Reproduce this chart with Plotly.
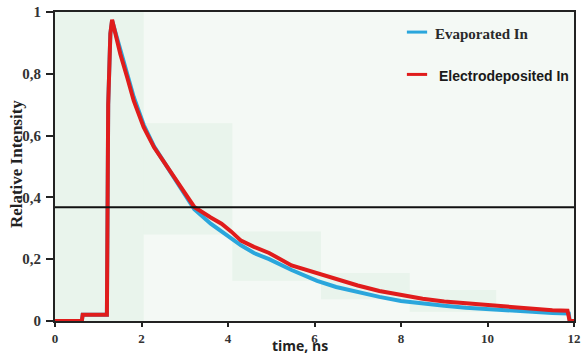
import plotly.graph_objects as go

# time (ns) and relative intensity samples
t_evap = [0, 0.62, 0.64, 1.17, 1.2, 1.23, 1.28, 1.32, 1.51, 1.67, 1.82, 2.05, 2.29, 2.6, 2.91, 3.22, 3.6, 3.85, 4.07,
          4.3, 4.6, 4.95, 5.47, 6.06, 6.5, 7.0, 7.5, 8.0, 8.5, 9.0, 9.5, 10.0, 10.5, 11.0, 11.5, 11.88, 11.9, 12]
i_evap = [0, 0, 0.02, 0.02, 0.02, 0.7, 0.93, 0.972, 0.875, 0.80, 0.725, 0.635, 0.565, 0.497, 0.428, 0.362, 0.315, 0.29, 0.27,
          0.245, 0.22, 0.2, 0.165, 0.13, 0.11, 0.093, 0.078, 0.065, 0.056, 0.049, 0.043, 0.038, 0.033, 0.029, 0.026, 0.024, 0, 0]

t_elec = [0, 0.62, 0.64, 1.17, 1.2, 1.23, 1.28, 1.32, 1.51, 1.67, 1.82, 2.05, 2.29, 2.6, 2.91, 3.22, 3.6, 3.85, 4.07,
          4.3, 4.6, 4.95, 5.47, 6.06, 6.5, 7.0, 7.5, 8.0, 8.5, 9.0, 9.5, 10.0, 10.5, 11.0, 11.5, 11.85, 11.9, 12]
i_elec = [0, 0, 0.02, 0.02, 0.02, 0.7, 0.93, 0.975, 0.864, 0.788, 0.713, 0.627, 0.562, 0.498, 0.433, 0.369, 0.335, 0.315, 0.29,
          0.26, 0.24, 0.22, 0.18, 0.155, 0.135, 0.115, 0.097, 0.083, 0.072, 0.063, 0.057, 0.051, 0.045, 0.04, 0.035, 0.033, 0, 0]

one_over_e = 0.368

# faint shaded boxes (x0, x1, y0, y1)
box_x0 = [0, 2.05, 4.1, 6.15, 8.2]
box_x1 = [2.05, 4.1, 6.15, 8.2, 10.2]
box_y0 = [0, 0.28, 0.13, 0.07, 0.03]
box_y1 = [1, 0.64, 0.29, 0.155, 0.1]

x_ticks = [0, 2, 4, 6, 8, 10, 12]
x_labels = ["0", "2", "4", "6", "8", "10", "12"]
y_ticks = [0, 0.2, 0.4, 0.6, 0.8, 1]
y_labels = ["0", "0,2", "0,4", "0,6", "0,8", "1"]

series_names = ["Evaporated In", "Electrodeposited In"]
series_colors = ["#2aa6dc", "#e01c1c"]

fig = go.Figure()

for a, b, c, d in zip(box_x0, box_x1, box_y0, box_y1):
    fig.add_shape(type="rect", x0=a, x1=b, y0=c, y1=d, xref="x", yref="y",
                  fillcolor="rgba(150,210,165,0.11)", line_width=0, layer="below")

fig.add_hline(y=one_over_e, line=dict(color="#111", width=2))

fig.add_trace(go.Scatter(x=t_evap, y=i_evap, mode="lines", name=series_names[0],
                         line=dict(color=series_colors[0], width=4)))
fig.add_trace(go.Scatter(x=t_elec, y=i_elec, mode="lines", name=series_names[1],
                         line=dict(color=series_colors[1], width=4)))

# hand-placed legend (keys + labels in paper coordinates)
legend_y = [0.93, 0.793]
legend_fonts = [dict(family="Liberation Serif", size=15, color="#2a2a2a", weight="bold"),
                dict(family="Liberation Sans", size=14, color="#1a1a1a", weight="bold")]
legend_text_x = [0.728, 0.736]
for k in range(2):
    fig.add_shape(type="line", xref="paper", yref="paper", x0=0.678, x1=0.717,
                  y0=legend_y[k] + 0.005, y1=legend_y[k] + 0.005, line=dict(color=series_colors[k], width=3))
    fig.add_annotation(xref="paper", yref="paper", x=legend_text_x[k], y=legend_y[k],
                       xanchor="left", yanchor="middle", showarrow=False,
                       text=series_names[k], font=legend_fonts[k])

# axis titles
fig.add_annotation(xref="paper", yref="paper", x=0.472, y=-0.078, xanchor="center", yanchor="middle",
                   showarrow=False, text="time, ns",
                   font=dict(family="Open Sans", size=14, color="#222", weight="bold"))
fig.add_annotation(xref="paper", yref="paper", x=-0.075, y=0.508, xanchor="center", yanchor="middle",
                   showarrow=False, text="Relative Intensity", textangle=-90,
                   font=dict(family="Liberation Serif", size=17, color="#222", weight="bold"))

fig.update_layout(
    width=586, height=354,
    margin=dict(l=55, r=12, t=12, b=33),
    paper_bgcolor="white",
    plot_bgcolor="#f4f9f5",
    showlegend=False,
    xaxis=dict(range=[0, 12], tickvals=x_ticks, ticktext=x_labels, automargin=False,
               showgrid=False, zeroline=False,
               showline=True, linecolor="#222", linewidth=2, mirror=True,
               ticks="outside", ticklen=4, tickwidth=1.5, tickcolor="#222",
               ticklabelstandoff=0,
               tickfont=dict(family="Liberation Serif", size=13, color="#333", weight="bold")),
    yaxis=dict(range=[0, 1], tickvals=y_ticks, ticktext=y_labels, automargin=False,
               showgrid=False, zeroline=False,
               showline=True, linecolor="#222", linewidth=2, mirror=True,
               ticks="outside", ticklen=7, tickwidth=1.5, tickcolor="#222",
               ticklabelstandoff=2,
               tickfont=dict(family="Liberation Serif", size=15, color="#333", weight="bold")),
)

# remove the browser's default 8 px body margin so the figure sits at the page corner
fig.write_html("out.html", config={"displayModeBar": False},
               post_script="document.body.style.margin='0px';")
